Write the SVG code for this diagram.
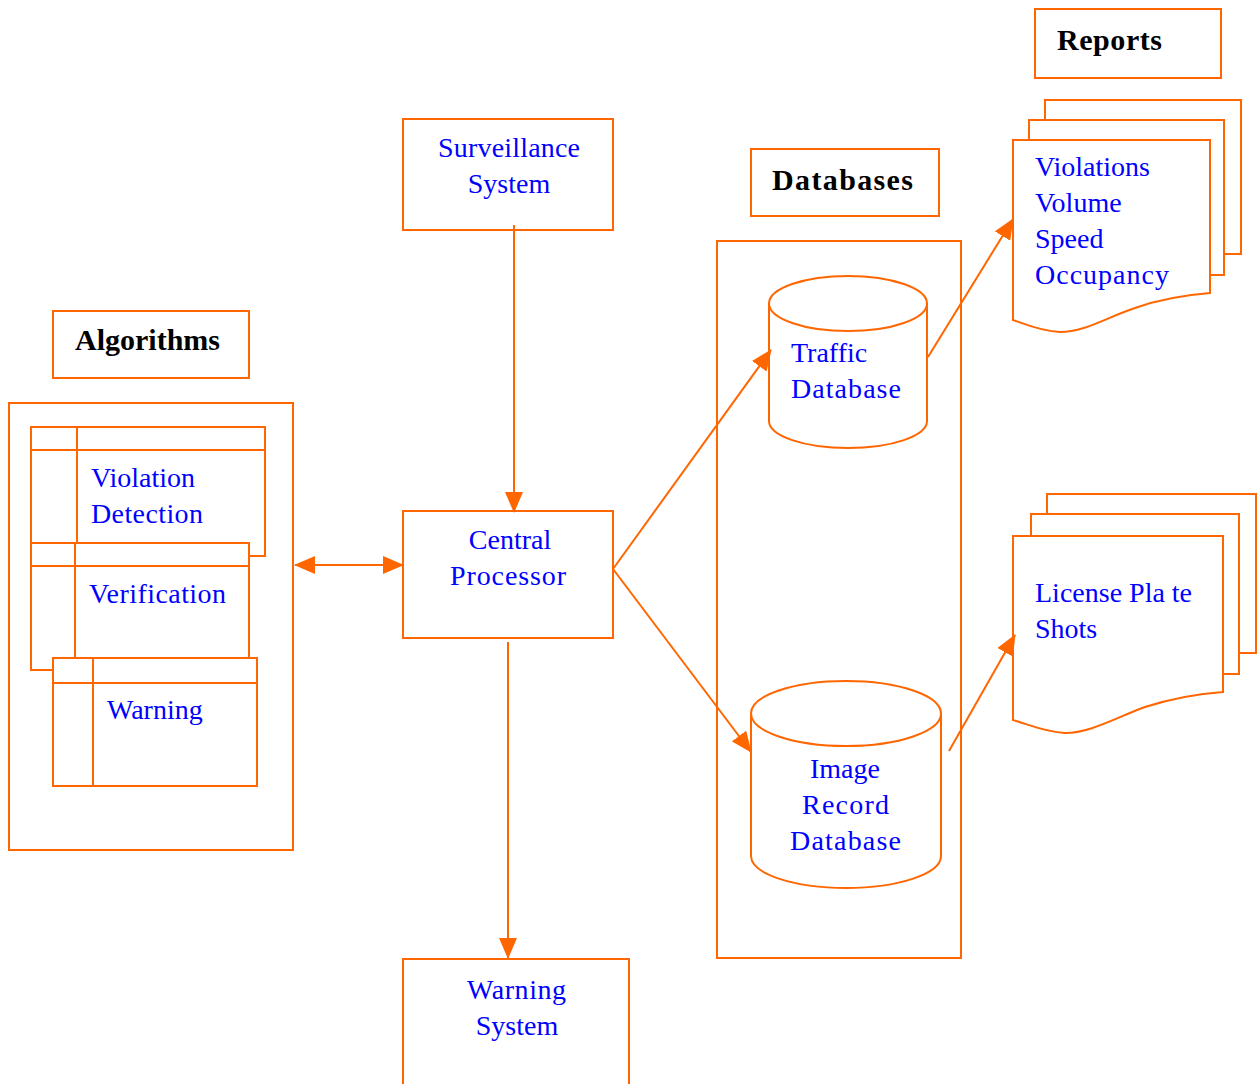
<svg xmlns="http://www.w3.org/2000/svg" width="1258" height="1084" viewBox="0 0 1258 1084">
<defs>
<marker id="ah" markerUnits="userSpaceOnUse" markerWidth="22" markerHeight="18" refX="20" refY="9" orient="auto-start-reverse" viewBox="0 0 22 18">
<path d="M0,0 L21,9 L0,18 Z" fill="#FF6600"/>
</marker>
</defs>
<style>
.s{fill:#fff;stroke:#FF6600;stroke-width:2}
.n{fill:none;stroke:#FF6600;stroke-width:2}
.c{fill:none;stroke:#FF6600;stroke-width:2;marker-end:url(#ah)}
.t{font-family:"Liberation Serif","Times New Roman",serif;font-size:28px;fill:#0000FF}
.b{font-family:"Liberation Serif","Times New Roman",serif;font-size:30px;font-weight:bold;fill:#000}
.m{text-anchor:middle}
</style>
<rect width="1258" height="1084" fill="#fff"/>

<g id="algorithms-label">
<rect class="s" x="53" y="311" width="196" height="67"/>
<text class="b" x="75" y="350">Algorithms</text>
</g>
<g id="algorithms">
<rect class="s" x="9" y="403" width="284" height="447"/>
<g id="violation-detection">
<rect class="s" x="31" y="427" width="234" height="129"/>
<line class="n" x1="31" y1="450" x2="265" y2="450"/>
<line class="n" x1="77" y1="427" x2="77" y2="556"/>
<text class="t" x="91" y="487">Violation</text>
<text class="t" x="91" y="523" textLength="112">Detection</text>
</g>
<g id="verification">
<rect class="s" x="31" y="543" width="218" height="127"/>
<line class="n" x1="31" y1="566" x2="249" y2="566"/>
<line class="n" x1="75" y1="543" x2="75" y2="670"/>
<text class="t" x="89" y="603" textLength="137">Verification</text>
</g>
<g id="warning">
<rect class="s" x="53" y="658" width="204" height="128"/>
<line class="n" x1="53" y1="683" x2="257" y2="683"/>
<line class="n" x1="93" y1="658" x2="93" y2="786"/>
<text class="t" x="107" y="719">Warning</text>
</g>
</g>

<g id="surveillance-system">
<rect class="s" x="403" y="119" width="210" height="111"/>
<text class="t" x="438" y="157" textLength="142">Surveillance</text>
<text class="t m" x="509" y="193">System</text>
</g>
<g id="central-processor">
<rect class="s" x="403" y="511" width="210" height="127"/>
<text class="t m" x="510" y="549">Central</text>
<text class="t" x="450" y="585" textLength="116">Processor</text>
</g>
<g id="warning-system">
<rect class="s" x="403" y="959" width="226" height="140"/>
<text class="t" x="467" y="999" textLength="99">Warning</text>
<text class="t m" x="517" y="1035">System</text>
</g>

<g id="databases-label">
<rect class="s" x="751" y="149" width="188" height="67"/>
<text class="b" x="772" y="190" textLength="141">Databases</text>
</g>
<g id="databases">
<rect class="s" x="717" y="241" width="244" height="717"/>
<g id="traffic-database">
<path class="s" d="M769,303.5 V421 A79,27 0 0 0 927,421 V303.5"/>
<ellipse class="s" cx="848" cy="303.5" rx="79" ry="27.5"/>
<text class="t" x="791" y="362">Traffic</text>
<text class="t" x="791" y="398" textLength="110">Database</text>
</g>
<g id="image-record-database">
<path class="s" d="M751,713.5 V856 A95,32 0 0 0 941,856 V713.5"/>
<ellipse class="s" cx="846" cy="713.5" rx="95" ry="32.5"/>
<text class="t m" x="845" y="778">Image</text>
<text class="t" x="802" y="814" textLength="87">Record</text>
<text class="t" x="790" y="850" textLength="111">Database</text>
</g>
</g>

<g id="reports-label">
<rect class="s" x="1035" y="9" width="186" height="69"/>
<text class="b" x="1057" y="50" textLength="105">Reports</text>
</g>
<g id="reports">
<rect class="s" x="1045" y="100" width="196" height="154"/>
<rect class="s" x="1029" y="120" width="195" height="155"/>
<path class="s" d="M1013,140 H1210 V293 C1185,295 1160,299 1135,308 C1105,318 1085,332 1060,332 C1040,331 1025,324 1013,320 Z"/>
<text class="t" x="1035" y="176">Violations</text>
<text class="t" x="1035" y="212">Volume</text>
<text class="t" x="1035" y="248">Speed</text>
<text class="t" x="1035" y="284" textLength="134">Occupancy</text>
</g>
<g id="license-plate-shots">
<rect class="s" x="1047" y="494" width="209" height="159"/>
<rect class="s" x="1031" y="514" width="208" height="160"/>
<path class="s" d="M1013,536 H1223 V692 C1195,694 1170,699 1145,707 C1115,718 1090,733 1065,733 C1045,732 1030,725 1013,720 Z"/>
<text class="t" x="1035" y="602">License Pla te</text>
<text class="t" x="1035" y="638">Shots</text>
</g>

<g id="connectors">
<line class="c" x1="514" y1="225" x2="514" y2="512"/>
<line class="c" x1="295" y1="565" x2="403" y2="565" style="marker-start:url(#ah)"/>
<line class="c" x1="613" y1="569" x2="771" y2="350"/>
<line class="c" x1="613" y1="569" x2="751" y2="752"/>
<line class="c" x1="508" y1="642" x2="508" y2="958"/>
<line class="c" x1="928" y1="357" x2="1013" y2="219"/>
<line class="c" x1="949" y1="751" x2="1015" y2="635"/>
</g>
</svg>
